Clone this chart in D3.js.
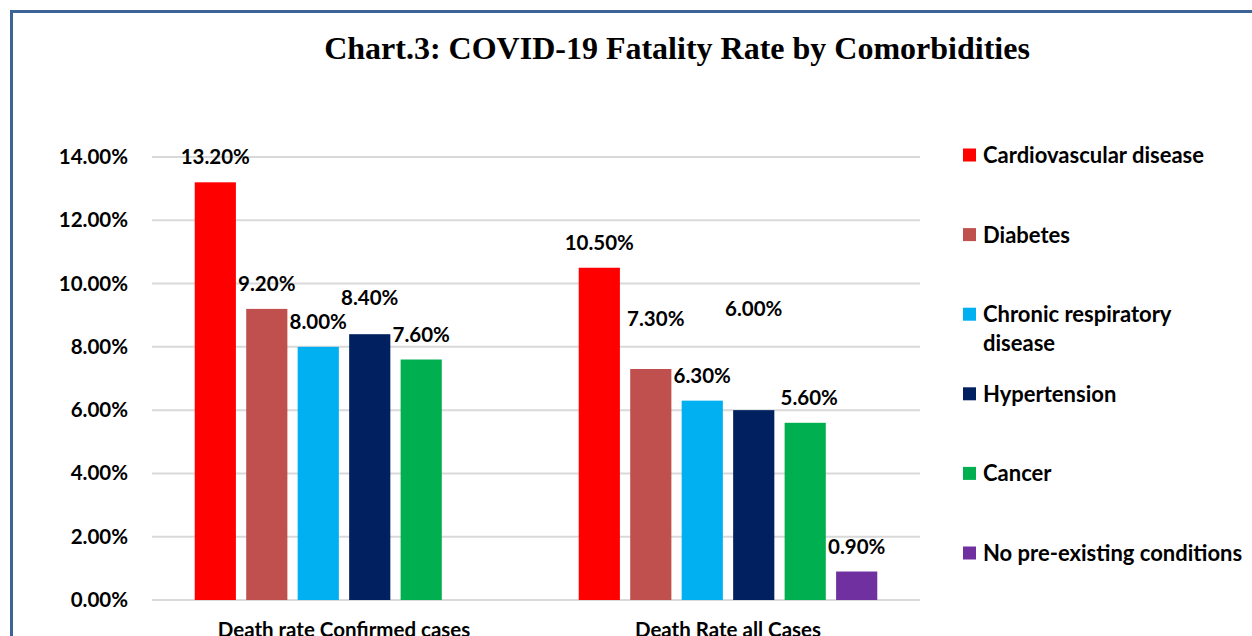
<!DOCTYPE html>
<html>
<head>
<meta charset="utf-8">
<script src="https://cdn.jsdelivr.net/npm/d3@7/dist/d3.min.js"></script>
<style>
  body { margin: 0; background: #fff; }
  svg { display: block; }
</style>
</head>
<body>
<svg id="chart"></svg>
<script>
// data
const groups = ['Death rate Confirmed cases', 'Death Rate all Cases'];
const conditions = ['Cardiovascular disease', 'Diabetes', 'Chronic respiratory disease',
    'Hypertension', 'Cancer', 'No pre-existing conditions'];
const confirmedRates = [13.2, 9.2, 8.0, 8.4, 7.6, null];
const allCaseRates = [10.5, 7.3, 6.3, 6.0, 5.6, 0.9];
const yTicks = [0, 2, 4, 6, 8, 10, 12, 14];

// style
const colors = ['#ff0000', '#c0504d', '#00b0f0', '#002060', '#00b050', '#7030a0'];
// manual label nudges (px above default spot, x shift), like the hand-placed excel labels
const labelNudge = [
    [[0, 0], [0, 0], [0, 0], [11, 0], [0, 0], [0, 0]],
    [[0, 0], [25, 5], [0, 0], [76, 0], [0, 4], [0, 0]]
];

const svgWidth = 1252,
    svgHeight = 636,
    plotLeft = 152,
    plotRight = 920,
    plotTop = 157,
    plotBottom = 600,
    font = 'Lato, "Open Sans", sans-serif';

const svg = d3.select('svg#chart')
    .attr('width', svgWidth)
    .attr('height', svgHeight);

// frame
svg.append('rect')
    .attr('x', 11.5).attr('y', 11.5)
    .attr('width', svgWidth + 20).attr('height', svgHeight + 20)
    .attr('fill', 'none')
    .attr('stroke', '#3c6496')
    .attr('stroke-width', 3);

// title
svg.append('text')
    .text('Chart.3: COVID-19 Fatality Rate by Comorbidities')
    .attr('x', 677).attr('y', 59)
    .attr('text-anchor', 'middle')
    .attr('font-family', '"Liberation Serif", "Times New Roman", serif')
    .attr('font-weight', 'bold')
    .attr('font-size', 32);

const x0 = d3.scaleBand().domain(groups).range([plotLeft, plotRight]);
const x1 = d3.scaleBand().domain(conditions).range([0, x0.bandwidth()])
    .paddingOuter(0.83).paddingInner(0.2);
const y = d3.scaleLinear().domain([0, 14]).range([plotBottom, plotTop]);

// gridlines
svg.append('g')
    .selectAll('line')
    .data(yTicks)
    .join('line')
    .attr('x1', plotLeft).attr('x2', plotRight)
    .attr('y1', d => y(d)).attr('y2', d => y(d))
    .attr('stroke', '#d9d9d9')
    .attr('stroke-width', 2);

// y axis labels
const yAxis = d3.axisLeft(y).tickValues(yTicks)
    .tickFormat(d => d.toFixed(2) + '%').tickSize(0).tickPadding(24);
svg.append('g')
    .attr('transform', `translate(${plotLeft},0)`)
    .call(yAxis)
    .call(g => g.select('.domain').remove())
    .call(g => g.selectAll('text')
        .attr('font-family', font)
        .attr('font-weight', 'bold')
        .attr('font-size', 20.5)
        .attr('fill', '#000'));

// x axis labels
const xAxis = d3.axisBottom(x0).tickSize(0).tickPadding(22);
svg.append('g')
    .attr('transform', `translate(0,${plotBottom})`)
    .call(xAxis)
    .call(g => g.select('.domain').remove())
    .call(g => g.selectAll('text')
        .attr('font-family', font)
        .attr('font-weight', 'bold')
        .attr('font-size', 20.5)
        .attr('fill', '#000'));

// bars
const seriesByGroup = [confirmedRates, allCaseRates];
groups.forEach((grp, gi) => {
    const rows = conditions.map((c, ci) => ({ c: c, ci: ci, v: seriesByGroup[gi][ci] }))
        .filter(d => d.v !== null);
    const g = svg.append('g').attr('transform', `translate(${x0(grp)},0)`);

    g.selectAll('rect')
        .data(rows)
        .join('rect')
        .attr('x', d => x1(d.c))
        .attr('y', d => y(d.v))
        .attr('width', x1.bandwidth())
        .attr('height', d => y(0) - y(d.v))
        .attr('fill', d => colors[d.ci]);

    g.selectAll('text')
        .data(rows)
        .join('text')
        .text(d => d.v.toFixed(2) + '%')
        .attr('x', d => x1(d.c) + x1.bandwidth() / 2 + labelNudge[gi][d.ci][1])
        .attr('y', d => y(d.v) - 18 - labelNudge[gi][d.ci][0])
        .attr('text-anchor', 'middle')
        .attr('font-family', font)
        .attr('font-weight', 'bold')
        .attr('font-size', 20.5)
        .attr('fill', '#000');
});

// legend
const legendX = 963,
    legendY = 155,
    legendStep = 79.6,
    legendSize = 13;

const legend = svg.append('g');
conditions.forEach((c, i) => {
    const ly = legendY + i * legendStep;
    legend.append('rect')
        .attr('x', legendX).attr('y', ly - legendSize / 2)
        .attr('width', legendSize).attr('height', legendSize)
        .attr('fill', colors[i]);
    const t = legend.append('text')
        .attr('x', legendX + 20).attr('y', ly + 8)
        .attr('font-family', font)
        .attr('font-weight', 'bold')
        .attr('font-size', 22)
        .attr('fill', '#000');
    if (c === 'Chronic respiratory disease') {
        t.append('tspan').text('Chronic respiratory');
        t.append('tspan').attr('x', legendX + 20).attr('dy', 29).text('disease');
    } else {
        t.text(c);
    }
});
</script>
</body>
</html>
